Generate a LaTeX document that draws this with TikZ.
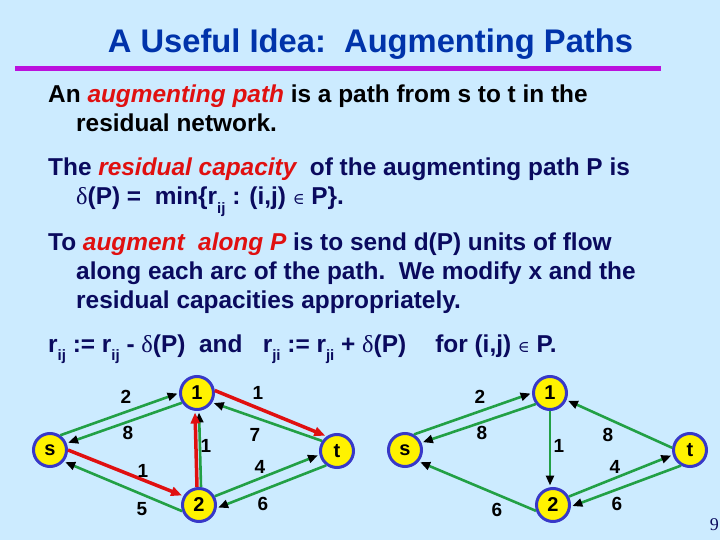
\documentclass[tikz,border=0pt]{standalone}
\usepackage{fontspec}
\setmainfont{Liberation Sans}
\newfontfamily\symf{Liberation Serif}
\newfontfamily\symg{DejaVu Serif}
\usetikzlibrary{arrows.meta}
\definecolor{bg}{HTML}{CCEBFF}
\definecolor{ttl}{HTML}{0033AA}
\definecolor{navy}{HTML}{0A0A5E}
\definecolor{hl}{HTML}{E01010}
\definecolor{rulec}{HTML}{BB11DD}
\definecolor{grn}{HTML}{22A045}
\definecolor{nodeblue}{HTML}{3838C8}
\definecolor{nodeyel}{HTML}{FFF200}
\newcommand{\hlt}[1]{{\color{hl}\itshape #1}}
\newcommand{\dlt}{{\symf\mdseries δ}}
\newcommand{\inn}{{\symg\mdseries\fontsize{16}{16}\selectfont ∈}}
\newcommand{\lsub}[1]{\raisebox{-0.35em}{\fontsize{15}{15}\selectfont #1}}
\tikzset{
  body/.style={anchor=base west, inner sep=0pt, font=\fontsize{24.4}{28}\selectfont\bfseries},
  vert/.style={circle, draw=nodeblue, line width=3pt, fill=nodeyel, minimum size=33pt, inner sep=0pt, font=\fontsize{20}{20}\selectfont\bfseries},
  garc/.style={draw=grn, line width=2.6pt, shorten >=1.5pt, -{Triangle[length=10pt,width=8pt,color=black]}},
  rarc/.style={draw=hl, line width=3.5pt, shorten >=1.5pt, -{Triangle[length=11pt,width=9pt,color=hl]}},
  lbl/.style={inner sep=0pt, font=\fontsize{19}{19}\selectfont\bfseries, text=black}
}
\begin{document}
\begin{tikzpicture}[x=1pt,y=-1pt]
\useasboundingbox (0,0) rectangle (720,540);
\fill[bg] (0,0) rectangle (720,540);
% title
\node[anchor=base, inner sep=0pt, text=ttl, font=\fontsize{32.7}{36}\selectfont\bfseries] (title) at (370.5,52.5) {A Useful Idea:\ \ Augmenting Paths};
\draw[rulec, line width=5pt] (15,69) -- (661,69);
% body text
\node[body, text=black] (l1) at (48,103) {An \hlt{augmenting path} is a path from s to t in the};
\node[body, text=black] (l2) at (76,132) {residual network.};
\node[body, text=navy] (l3) at (48,176) {The \hlt{residual capacity}\ \ of the augmenting path P is};
\node[body, text=navy] (l4) at (76,205) {\dlt(P) =\ \ min\{r\lsub{ij} : (i,j) \inn\ P\}.};
\node[body, text=navy] (l5) at (48,250) {To \hlt{augment\ \ along P} is to send d(P) units of flow};
\node[body, text=navy] (l6) at (76,279) {along each arc of the path.\ \ We modify x and the};
\node[body, text=navy] (l7) at (76,308) {residual capacities appropriately.};
\node[body, text=navy] (l8) at (48,352) {r\lsub{ij} := r\lsub{ij} - \dlt(P)\ \ and\ \ \ r\lsub{ji} := r\lsub{ji} + \dlt(P)\ \ \ \ \hspace{2pt}for (i,j) \inn\ P.};
% left graph
\node[vert] (sL) at (50,450) {s};
\node[vert] (aL) at (197,393) {1};
\node[vert] (bL) at (199,505) {2};
\node[vert] (tL) at (337,451) {t};
\draw[garc] (sL.55) -- (aL.180);
\draw[garc] (aL.213) -- (sL.22);
\draw[rarc] (aL.8) -- (tL.125);
\draw[garc] (tL.146) -- (aL.328);
\draw[rarc] (sL.0) -- (bL.150);
\draw[garc] (bL.200) -- (sL.320);
\draw[garc] ([xshift=2pt]bL.north) -- ([xshift=2pt]aL.south);
\draw[rarc] ([xshift=-2pt]bL.north) -- ([xshift=-2pt]aL.south);
\draw[garc] (bL.29) -- (tL.192);
\draw[garc] (tL.233) -- (bL.350);
\node[lbl] (l-sa) at (126,397) {2};
\node[lbl] (l-as) at (128,433) {8};
\node[lbl] (l-at) at (258,393) {1};
\node[lbl] (l-ta) at (255,435) {7};
\node[lbl] (l-sb) at (143,471) {1};
\node[lbl] (l-bs) at (142,509) {5};
\node[lbl] (l-ba) at (206,446) {1};
\node[lbl] (l-bt) at (260,467) {4};
\node[lbl] (l-tb) at (263,504) {6};
% right graph
\node[vert] (sR) at (405,450) {s};
\node[vert] (aR) at (550,393) {1};
\node[vert] (bR) at (553,505) {2};
\node[vert] (tR) at (690,450) {t};
\draw[garc] (sR.60) -- (aR.180);
\draw[garc] (aR.218) -- (sR.24);
\draw[garc] (aR.south) -- (aR.south |- bR.north);
\draw[garc] (tR.173) -- (aR.337);
\draw[garc] (bR.28) -- (tR.196);
\draw[garc] (tR.240) -- (bR.355);
\draw[garc] (bR.199) -- (sR.320);
\node[lbl] (r-sa) at (480,397) {2};
\node[lbl] (r-as) at (482,433) {8};
\node[lbl] (r-ab) at (559,446) {1};
\node[lbl] (r-ta) at (608,435) {8};
\node[lbl] (r-bt) at (615,467) {4};
\node[lbl] (r-tb) at (617,504) {6};
\node[lbl] (r-bs) at (497,510) {6};
% page number
\node[anchor=east, inner sep=0pt, text=navy, font=\symf\fontsize{18}{18}\selectfont] (pg) at (719,525) {9};
\end{tikzpicture}
\end{document}
